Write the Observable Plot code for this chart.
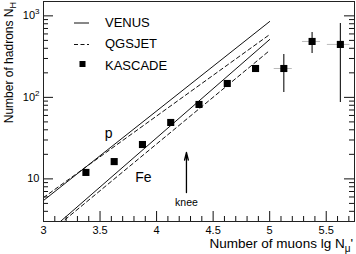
<!DOCTYPE html>
<html><head><meta charset="utf-8">
<script src="https://cdn.jsdelivr.net/npm/d3@7"></script>
<script src="https://cdn.jsdelivr.net/npm/@observablehq/plot@0.6"></script>
<style>
body{margin:0;background:#fff;}
#chart{position:relative;width:356px;height:254px;}
svg{font-family:"Liberation Sans",Arial,sans-serif;}
</style></head><body><div id="chart"></div>
<script>
// KASCADE measurements
const muonLg = [3.375, 3.625, 3.875, 4.125, 4.375, 4.625, 4.875, 5.125, 5.375, 5.625];
const hadrons = [12.0, 16.3, 26.4, 49.2, 81.8, 148, 226, 226, 485, 446];
// error bars (only visible ones)
const errMuon = [5.125, 5.375, 5.625];
const errHadLow = [115, 345, 86.5];
const errHadHigh = [336, 625, 805];
const errMuonLow = [5.04, 5.29, 5.51];
const errMuonHigh = [5.20, 5.45, 5.71];
// model predictions (straight lines in lg-lg)
const modelLgNmu = [3, 5];
const venusP = [5.43, 853];
const qgsjetP = [5.90, 590];
const venusFe = [1.98, 513];
const qgsjetFe = [1.91, 376];
// axis ticks
const xMajor = [3, 3.5, 4, 4.5, 5, 5.5];
const xMinor = [3.1,3.2,3.3,3.4,3.6,3.7,3.8,3.9,4.1,4.2,4.3,4.4,4.6,4.7,4.8,4.9,5.1,5.2,5.3,5.4,5.6,5.7];
const yMajor = [10, 100, 1000];
const yMajorLabels = [["10", ""], ["10", "2"], ["10", "3"]];
const yMinor = [3,4,5,6,7,8,9,20,30,40,50,60,70,80,90,200,300,400,500,600,700,800,900];
// annotations
const annotX = [3.575, 3.884];
const annotY = [36, 10.4];
const annotText = ["p", "Fe"];
const kneeX = 4.264, kneeTail = 6.8, kneeTip = 21.1, kneeLabelY = 5.1;

const points = muonLg.map((x, i) => ({x, y: hadrons[i]}));
const errs = errMuon.map((x, i) => ({x, lo: errHadLow[i], hi: errHadHigh[i], y: hadrons[7 + i], xlo: errMuonLow[i], xhi: errMuonHigh[i]}));
const mk = (name, arr) => modelLgNmu.map((x, i) => ({model: name, x, y: arr[i]}));
const solid = [...mk("VENUS p", venusP), ...mk("VENUS Fe", venusFe)];
const dashed = [...mk("QGSJET p", qgsjetP), ...mk("QGSJET Fe", qgsjetFe)];
const annots = annotX.map((x, i) => ({x, y: annotY[i], t: annotText[i]}));

const ink = "#111";
const plot = Plot.plot({
  width: 356, height: 254,
  marginLeft: 43, marginRight: 2, marginTop: 1, marginBottom: 33,
  style: {fontFamily: "Liberation Sans, Arial, sans-serif", fontSize: "11px", color: "#000", background: "#fff", overflow: "visible"},
  x: {domain: [3, 5.75]},
  y: {type: "log", domain: [3, 1500], axis: null},
  marks: [
    // tick marks (inward)
    Plot.ruleX(xMajor, {x: d => d, y1: 3, y2: 3, insetTop: -10, stroke: ink}),
    Plot.ruleX(xMinor, {x: d => d, y1: 3, y2: 3, insetTop: -5, stroke: ink}),
    Plot.ruleY(yMajor, {y: d => d, x1: 3, x2: 3, insetRight: -10, stroke: ink}),
    Plot.ruleY(yMinor, {y: d => d, x1: 3, x2: 3, insetRight: -5, stroke: ink}),
    Plot.ruleY(yMajor, {y: d => d, x1: 5.75, x2: 5.75, insetLeft: -10, stroke: ink}),
    Plot.ruleY(yMinor, {y: d => d, x1: 5.75, x2: 5.75, insetLeft: -5, stroke: ink}),
    Plot.axisX(xMajor, {tickSize: 0, tickPadding: 5, label: null, fontSize: 11, tickFormat: d => String(d)}),
    // models
    Plot.line(solid, {x: "x", y: "y", z: "model", stroke: ink, strokeWidth: 1, clip: true}),
    Plot.line(dashed, {x: "x", y: "y", z: "model", stroke: ink, strokeWidth: 1, strokeDasharray: "4,3", clip: true}),
    // error bars
    Plot.ruleY(errs, {y: "y", x1: "xlo", x2: "xhi", stroke: "#bbb", strokeWidth: 1}),
    Plot.ruleX(errs, {x: "x", y1: "lo", y2: "hi", stroke: ink, strokeWidth: 1.1}),
    Plot.dot(points, {x: "x", y: "y", symbol: "square", r: 4, fill: "#000", stroke: null}),
    // annotations
    Plot.text(annots, {x: "x", y: "y", text: "t", fontSize: 14, fill: "#000"}),
    Plot.arrow([{x: kneeX, y1: kneeTail, y2: kneeTip}], {x1: "x", x2: "x", y1: "y1", y2: "y2", stroke: "#000", strokeWidth: 1.3, headLength: 9, headAngle: 28, bend: 0}),
    Plot.text([{x: kneeX, y: kneeLabelY, t: "knee"}], {x: "x", y: "y", text: "t", fontSize: 10.5, fill: "#000"}),
    Plot.frame({stroke: "#222"})
  ]
});

const svg = d3.select(plot);
const ys = plot.scale("y");
// y tick labels with superscripts
yMajor.forEach((v, i) => {
  const t = svg.append("text").attr("x", 39.5).attr("y", ys.apply(v) + 4).attr("text-anchor", "end").attr("font-size", 11).attr("fill", "#000");
  t.append("tspan").text(yMajorLabels[i][0]);
  if (yMajorLabels[i][1]) t.append("tspan").attr("dy", -5).attr("font-size", 8).text(yMajorLabels[i][1]);
});
// axis titles
const xt = svg.append("text").attr("x", 353).attr("y", 247.5).attr("text-anchor", "end").attr("font-size", 13.5).attr("fill", "#000");
xt.append("tspan").text("Number of muons lg N");
xt.append("tspan").attr("dy", 4).attr("font-size", 10).text("μ");
xt.append("tspan").attr("dy", -4).text("'");
const yt = svg.append("text").attr("transform", "translate(12.5,2) rotate(-90)").attr("text-anchor", "end").attr("font-size", 12).attr("fill", "#000");
yt.append("tspan").text("Number of hadrons N");
yt.append("tspan").attr("dy", 3).attr("font-size", 9).text("H");
// legend
const lg = svg.append("g").attr("fill", "#000").attr("font-size", 13).attr("text-anchor", "start");
lg.append("line").attr("x1", 74).attr("x2", 89).attr("y1", 23).attr("y2", 23).attr("stroke", ink);
lg.append("line").attr("x1", 74).attr("x2", 89).attr("y1", 44.5).attr("y2", 44.5).attr("stroke", ink).attr("stroke-dasharray", "4,2.5");
lg.append("rect").attr("x", 79.5).attr("y", 61).attr("width", 6).attr("height", 6).attr("fill", "#000");
[["VENUS", 27.3], ["QGSJET", 48.3], ["KASCADE", 70]].forEach(([s, y]) => lg.append("text").attr("x", 105).attr("y", y).attr("text-anchor", "start").text(s));

document.getElementById("chart").appendChild(plot);
</script></body></html>
